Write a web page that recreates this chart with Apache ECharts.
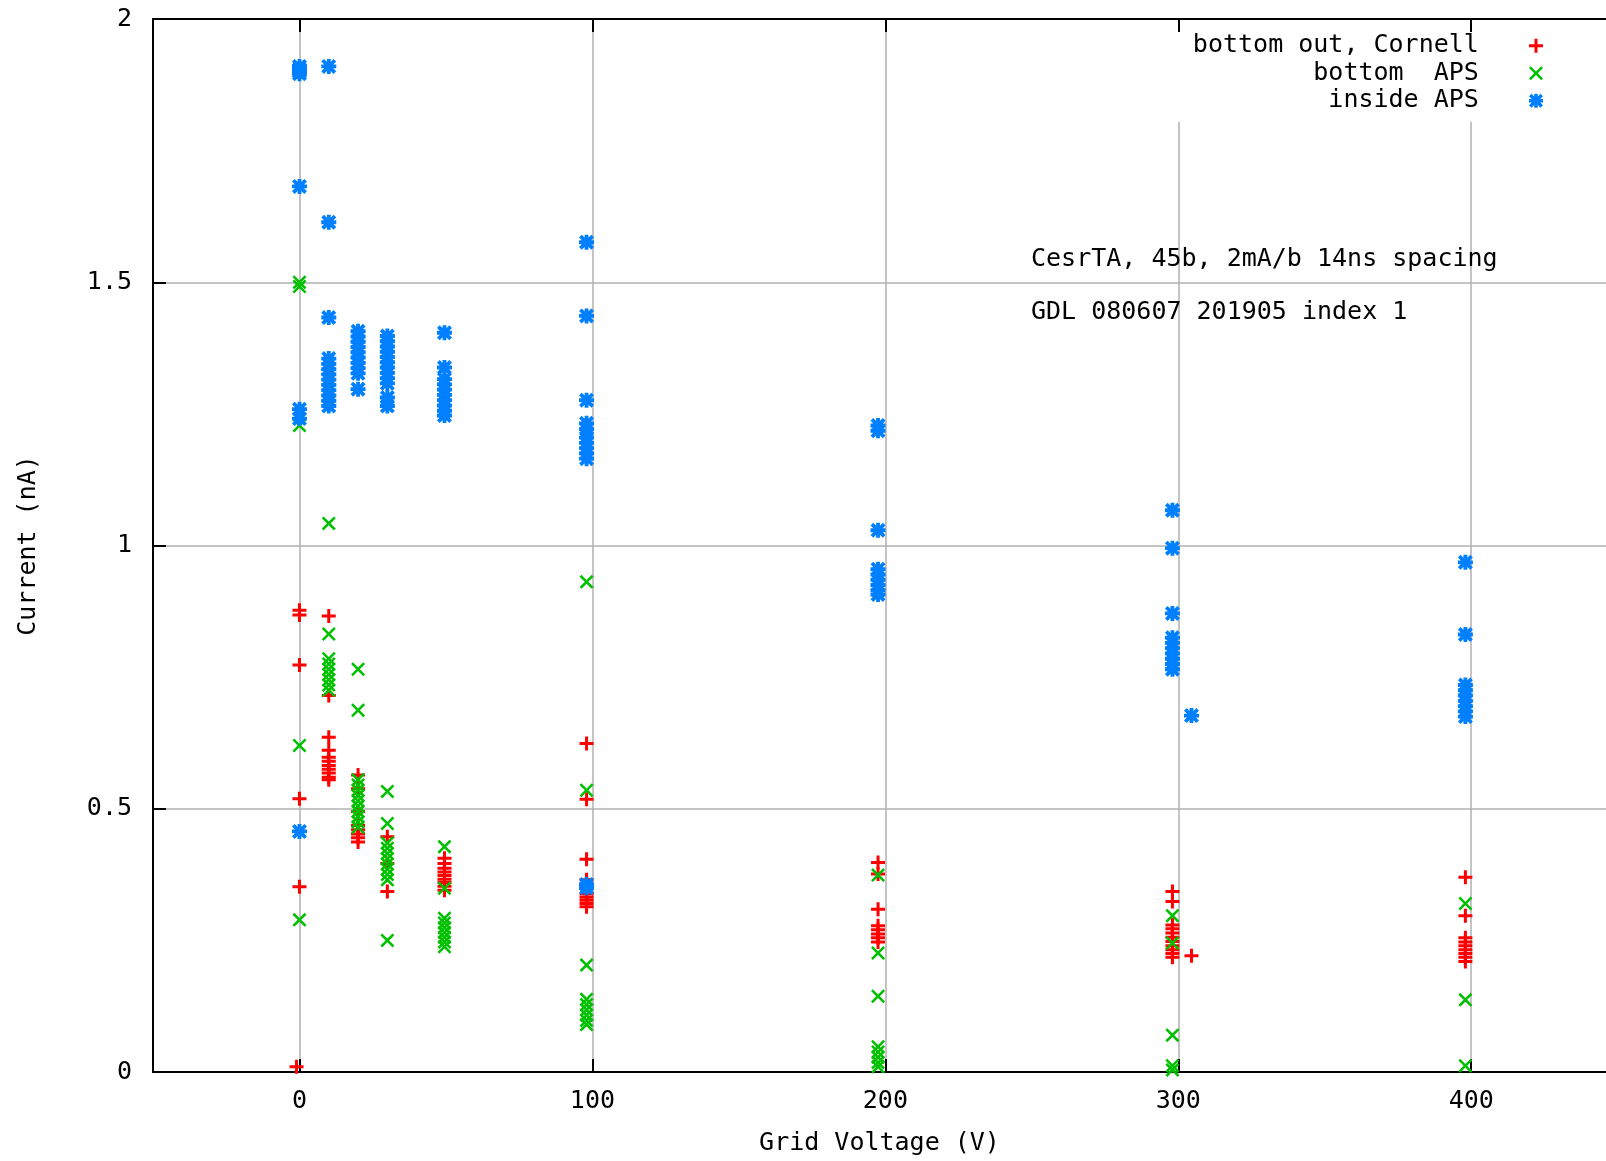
<!DOCTYPE html>
<html>
<head>
<meta charset="utf-8">
<script src="https://cdn.jsdelivr.net/npm/echarts@6/dist/echarts.min.js"></script>
<style>
html,body{margin:0;padding:0;background:#fff;}
#c{width:1606px;height:1161px;}
</style>
</head>
<body>
<div id="c"></div>
<script>
// ---- data ----
const seriesNames = ['bottom out, Cornell', 'bottom  APS', 'inside APS'];
const xTicks = [0, 100, 200, 300, 400];
const yTicks = [0, 0.5, 1, 1.5, 2];
const xRange = [-50, 446]; // the plot is cut at the right edge of the picture
const annotations = ['CesrTA, 45b, 2mA/b 14ns spacing', 'GDL 080607 201905 index 1'];

const cornellPoints = [
 [0,0.877],[0,0.868],[0,0.773],[0,0.519],[0,0.352],[-1,0.01],
 [10,0.866],[10,0.715],[10,0.636],[10,0.611],[10,0.598],[10,0.590],[10,0.582],[10,0.575],[10,0.568],[10,0.560],[10,0.555],
 [20,0.564],[20,0.538],[20,0.495],[20,0.468],[20,0.460],[20,0.452],[20,0.445],[20,0.437],
 [30,0.447],[30,0.396],[30,0.343],
 [49.5,0.406],[49.5,0.396],[49.5,0.387],[49.5,0.380],[49.5,0.373],[49.5,0.366],[49.5,0.360],[49.5,0.353],[49.5,0.345],
 [98,0.624],[98,0.518],[98,0.404],[98,0.365],[98,0.338],[98,0.332],[98,0.326],[98,0.320],[98,0.314],
 [197.5,0.398],[197.5,0.376],[197.5,0.309],[197.5,0.278],[197.5,0.270],[197.5,0.262],[197.5,0.255],[197.5,0.247],
 [298,0.343],[298,0.324],[298,0.279],[298,0.272],[298,0.264],[298,0.256],[298,0.248],[298,0.240],[298,0.232],[298,0.225],[298,0.218],[304.5,0.221],
 [398,0.370],[398,0.297],[398,0.255],[398,0.247],[398,0.240],[398,0.232],[398,0.225],[398,0.218],[398,0.210]
];

const apsBottomPoints = [
 [0,1.500],[0,1.492],[0,1.228],[0,0.620],[0,0.289],
 [10,1.042],[10,0.832],[10,0.785],[10,0.775],[10,0.765],[10,0.755],[10,0.745],[10,0.735],[10,0.725],
 [20,0.765],[20,0.687],[20,0.555],[20,0.545],[20,0.535],[20,0.525],[20,0.515],[20,0.505],[20,0.495],[20,0.485],[20,0.475],[20,0.465],
 [30,0.533],[30,0.472],[30,0.435],[30,0.425],[30,0.415],[30,0.405],[30,0.395],[30,0.385],[30,0.375],[30,0.365],[30,0.250],
 [49.5,0.428],[49.5,0.349],[49.5,0.292],[49.5,0.283],[49.5,0.274],[49.5,0.265],[49.5,0.256],[49.5,0.247],[49.5,0.238],
 [98,0.931],[98,0.535],[98,0.203],[98,0.138],[98,0.128],[98,0.118],[98,0.108],[98,0.098],[98,0.090],
 [197.5,0.374],[197.5,0.226],[197.5,0.144],[197.5,0.048],[197.5,0.038],[197.5,0.028],[197.5,0.018],[197.5,0.010],
 [298,0.297],[298,0.245],[298,0.070],[298,0.012],[298,0.004],
 [398,0.320],[398,0.137],[398,0.012]
];

const apsInsidePoints = [
 [0,1.910],[0,1.905],[0,1.900],[0,1.896],[0,1.682],[0,1.259],[0,1.241],[0,0.457],
 [10,1.910],[10,1.614],[10,1.433],[10,1.355],[10,1.345],[10,1.335],[10,1.325],[10,1.315],[10,1.305],[10,1.295],[10,1.285],[10,1.275],[10,1.265],
 [20,1.407],[20,1.397],[20,1.387],[20,1.377],[20,1.367],[20,1.357],[20,1.347],[20,1.337],[20,1.327],[20,1.297],
 [30,1.398],[30,1.388],[30,1.378],[30,1.368],[30,1.358],[30,1.348],[30,1.338],[30,1.328],[30,1.318],[30,1.308],[30,1.281],[30,1.265],
 [49.5,1.404],[49.5,1.338],[49.5,1.316],[49.5,1.306],[49.5,1.296],[49.5,1.286],[49.5,1.276],[49.5,1.266],[49.5,1.256],[49.5,1.247],
 [98,1.576],[98,1.436],[98,1.276],[98,1.232],[98,1.221],[98,1.205],[98,1.195],[98,1.185],[98,1.175],[98,1.165],[98,0.356],[98,0.350],
 [197.5,1.228],[197.5,1.218],[197.5,1.029],[197.5,0.955],[197.5,0.945],[197.5,0.935],[197.5,0.925],[197.5,0.915],[197.5,0.907],
 [298,1.067],[298,0.995],[298,0.871],[298,0.825],[298,0.815],[298,0.805],[298,0.795],[298,0.785],[298,0.775],[298,0.765],[304.5,0.677],
 [398,0.968],[398,0.831],[398,0.735],[398,0.725],[398,0.715],[398,0.705],[398,0.695],[398,0.685],[398,0.675]
];

// ---- styles ----
const FONT = 'DejaVu Sans Mono';
const FS = 25;
const colors = ['#ff0000', '#00c000', '#0080ff'];
const PLUS = 'M5.5,0H8.5V5.5H14V8.5H8.5V14H5.5V8.5H0V5.5H5.5Z';
const CROSS = 'M0,1.8L1.8,0L7,5.2L12.2,0L14,1.8L8.8,7L14,12.2L12.2,14L7,8.8L1.8,14L0,12.2L5.2,7Z';
const PLUS_B = 'M5.2,0H8.8V5.2H14V8.8H8.8V14H5.2V8.8H0V5.2H5.2Z';
const CROSS_B = 'M0,2.5L2.5,0L7,4.5L11.5,0L14,2.5L9.5,7L14,11.5L11.5,14L7,9.5L2.5,14L0,11.5L4.5,7Z';
const symbols = ['path://' + PLUS, 'path://' + CROSS, 'path://' + PLUS_B + ' ' + CROSS_B];
const symbolSizes = [14, 14, 15];
const gridColor = '#b0b0b0';
const keyBottom = 1.805; // gridlines right of the key stop below it

const chart = echarts.init(document.getElementById('c'), null, {renderer: 'canvas'});

const dataSets = [cornellPoints, apsBottomPoints, apsInsidePoints];
const pointSeries = seriesNames.map((name, i) => ({
  name: name,
  type: 'scatter',
  data: dataSets[i],
  symbol: symbols[i],
  symbolSize: symbolSizes[i],
  itemStyle: {color: colors[i], opacity: 1},
  z: 2 + i * 0.1,
  emphasis: {disabled: true}
}));

const axisTextStyle = {fontFamily: FONT, fontSize: FS, color: '#000'};
const blackLine = {color: '#000', width: 2};

const option = {
  animation: false,
  backgroundColor: '#fff',
  grid: {left: 153, right: 0, top: 19, bottom: 87, containLabel: false},
  xAxis: [{
    type: 'value', min: xRange[0], max: xRange[1], position: 'bottom', z: 1,
    axisLine: {show: true, onZero: false, lineStyle: blackLine},
    axisTick: {show: true, inside: true, length: 13, customValues: xTicks, lineStyle: blackLine},
    axisLabel: Object.assign({customValues: xTicks, margin: 17}, axisTextStyle),
    splitLine: {show: false},
    name: 'Grid Voltage (V)', nameLocation: 'middle', nameGap: 59,
    nameTextStyle: axisTextStyle
  }, {
    type: 'value', min: xRange[0], max: xRange[1], position: 'top', z: 1,
    axisLine: {show: true, onZero: false, lineStyle: blackLine},
    axisTick: {show: true, inside: true, length: 13, customValues: xTicks, lineStyle: blackLine},
    axisLabel: {show: false},
    splitLine: {show: false}
  }],
  yAxis: {
    type: 'value', min: 0, max: 2, interval: 0.5, z: 1,
    axisLine: {show: true, onZero: false, lineStyle: blackLine},
    axisTick: {show: true, inside: true, length: 13, lineStyle: blackLine},
    axisLabel: Object.assign({margin: 21, customValues: yTicks}, axisTextStyle),
    splitLine: {show: true, lineStyle: {color: gridColor, width: 1.5}},
    name: 'Current (nA)', nameLocation: 'middle', nameGap: 112, nameRotate: 90,
    nameTextStyle: axisTextStyle
  },
  legend: {
    orient: 'vertical', right: 63, top: 32, align: 'right',
    itemWidth: 14, itemHeight: 14, itemGap: 0, padding: 0,
    data: seriesNames.map((n, i) => ({name: n, icon: symbols[i]})),
    formatter: n => n + '   ',
    textStyle: {fontFamily: FONT, fontSize: FS, color: '#000', lineHeight: 27.5},
    selectedMode: false
  },
  graphic: annotations.map((t, i) => ({
    type: 'text', x: 1031, y: 259 + i * 53, z: 10,
    style: {text: t, fontFamily: FONT, fontSize: FS, fill: '#000', align: 'left', verticalAlign: 'middle'}
  })),
  series: [{
    type: 'scatter', name: 'gridlines', data: [], silent: true,
    markLine: {
      silent: true, symbol: 'none', z: 0.5, animation: false,
      label: {show: false},
      lineStyle: {color: gridColor, width: 1.5, type: 'solid'},
      data: xTicks.map(v => [{coord: [v, 0]}, {coord: [v, v >= 300 ? keyBottom : 2]}])
    }
  }].concat(pointSeries)
};
chart.setOption(option);
</script>
</body>
</html>
